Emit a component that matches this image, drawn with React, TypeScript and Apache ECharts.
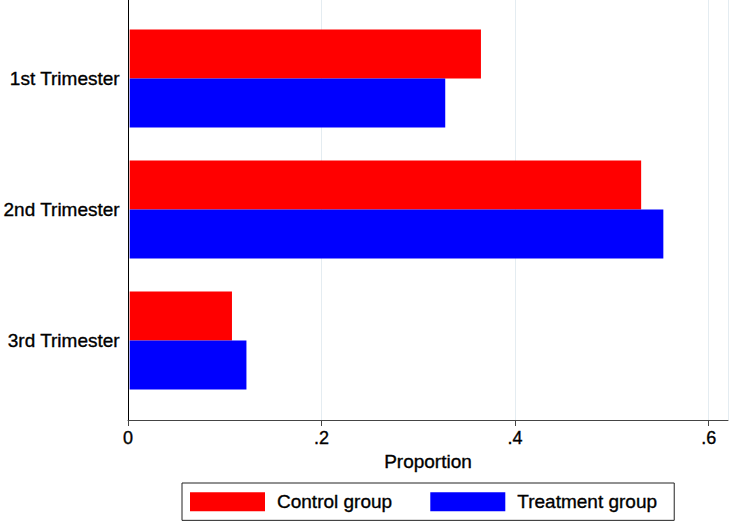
import React, { useEffect, useRef } from "react";
import * as echarts from "echarts";

const categories = ["1st Trimester", "2nd Trimester", "3rd Trimester"];
const controlGroup = [0.364, 0.530, 0.106];
const treatmentGroup = [0.327, 0.553, 0.121];
const seriesNames = ["Control group", "Treatment group"];
const tickValues = [0, 0.2, 0.4, 0.6];
const axisTitle = "Proportion";

const FONT = "'Liberation Sans', Arial, Helvetica, sans-serif";
const heavy = { textBorderColor: "#000", textBorderWidth: 0.35 };

export default function App() {
  const ref = useRef<HTMLDivElement>(null);
  useEffect(() => {
    if (!ref.current) return;
    const chart = echarts.init(ref.current, null, { renderer: "svg" });
    const fmt = (v: number) => {
      const hit = tickValues.find((t) => Math.abs(t - v) < 1e-6);
      if (hit === undefined) return "";
      return hit === 0 ? "0" : hit.toFixed(1).replace(/^0/, "");
    };
    chart.setOption({
      animation: false,
      backgroundColor: "#ffffff",
      textStyle: { fontFamily: FONT },
      grid: [
        { left: 128, width: 600, top: 13, height: 393, containLabel: false },
        { left: 128, width: 600, top: 0, height: 420, containLabel: false },
      ],
      xAxis: [
        { type: "value", gridIndex: 0, min: 0, max: 0.62, show: false },
        {
          type: "value",
          gridIndex: 1,
          min: 0,
          max: 0.62,
          interval: 0.2,
          axisLine: { show: true, onZero: false, lineStyle: { color: "#444", width: 1 } },
          axisTick: { show: true, length: 6, lineStyle: { color: "#444" } },
          axisLabel: {
            formatter: fmt,
            color: "#000",
            fontSize: 18,
            fontFamily: FONT,
            margin: 9,
            showMaxLabel: false,
            ...heavy,
          },
          splitLine: { show: true, lineStyle: { color: "#e4ecf1", width: 1 } },
          name: axisTitle,
          nameLocation: "middle",
          nameGap: 31,
          nameTextStyle: { color: "#000", fontSize: 19, fontFamily: FONT, ...heavy },
        },
      ],
      yAxis: [
        {
          type: "category",
          gridIndex: 0,
          data: categories,
          inverse: true,
          axisLine: { show: false },
          axisTick: { show: false },
          axisLabel: { color: "#000", fontSize: 19, fontFamily: FONT, margin: 10, ...heavy },
          splitLine: { show: false },
        },
        {
          type: "value",
          gridIndex: 1,
          min: 0,
          max: 1,
          axisLine: { show: true, onZero: false, lineStyle: { color: "#000", width: 1 } },
          axisTick: { show: false },
          axisLabel: { show: false },
          splitLine: { show: false },
        },
      ],
      legend: {
        left: 182,
        top: 483,
        orient: "horizontal",
        data: seriesNames,
        itemWidth: 75,
        itemHeight: 19,
        itemGap: 38,
        icon: "rect",
        padding: [9, 17, 9, 8],
        borderColor: "#222",
        borderWidth: 1,
        textStyle: {
          color: "#000",
          fontSize: 19,
          fontFamily: FONT,
          padding: [0, 0, 0, 7],
          ...heavy,
        },
      },
      series: [
        {
          name: seriesNames[0],
          type: "bar",
          xAxisIndex: 0,
          yAxisIndex: 0,
          data: controlGroup,
          barWidth: 49,
          barGap: "0%",
          itemStyle: { color: "#ff0000" },
        },
        {
          name: seriesNames[1],
          type: "bar",
          xAxisIndex: 0,
          yAxisIndex: 0,
          data: treatmentGroup,
          barWidth: 49,
          barGap: "0%",
          itemStyle: { color: "#0000ff" },
        },
      ],
    });
    return () => chart.dispose();
  }, []);
  return (
    <div
      ref={ref}
      style={{ width: 729, height: 521, position: "absolute", left: 0, top: 0 }}
    />
  );
}
